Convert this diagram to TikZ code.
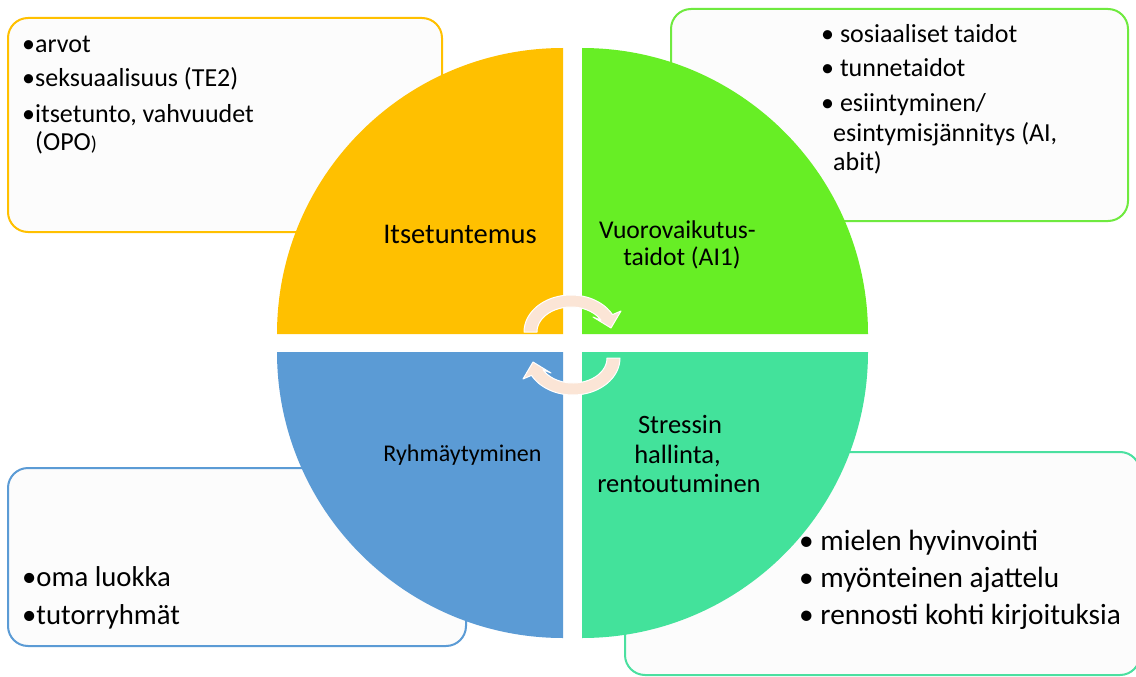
\documentclass[tikz,border=0pt]{standalone}
\usepackage{fontspec}
\setmainfont{Carlito}
\definecolor{cyellow}{HTML}{FFC000}
\definecolor{cgreen}{HTML}{67EE25}
\definecolor{cblue}{HTML}{5B9BD5}
\definecolor{cteal}{HTML}{43E29B}
\definecolor{bgreen}{HTML}{6FEA3F}
\definecolor{bteal}{HTML}{4BE0A0}
\definecolor{boxfill}{HTML}{FCFCFC}
\definecolor{peach}{HTML}{FBE5D6}
\begin{document}
\begin{tikzpicture}[x=1pt,y=-1pt,
  box/.style={line width=2pt, rounded corners=20pt, fill=boxfill},
  txt/.style={anchor=base west, inner sep=0pt, text=black},
  lbl/.style={anchor=base, inner sep=0pt, text=black},
  fa/.style={font=\fontsize{26}{31}\selectfont},
  fb/.style={font=\fontsize{28.7}{34}\selectfont},
  fc/.style={font=\fontsize{29.3}{35}\selectfont},
  cyc/.style={fill=peach, draw=white, line width=1pt, line join=round}]
\useasboundingbox (0,0) rectangle (1136,677);
\fill[white] (0,0) rectangle (1136,677);
% side boxes
\draw[box, draw=cyellow] (8,18) rectangle (442,232);
\draw[box, draw=bgreen] (671,9) rectangle (1128,221);
\draw[box, draw=cblue] (8,468) rectangle (466,646);
\draw[box, draw=bteal] (625,452) rectangle (1140,675);
% quadrants
\fill[cyellow] (563,334) -- ++(-286,0) arc[start angle=180, end angle=270, radius=286] -- cycle;
\fill[cgreen] (582,334) -- ++(0,-286) arc[start angle=270, end angle=360, radius=286] -- cycle;
\fill[cteal] (582,352) -- ++(286,0) arc[start angle=0, end angle=90, radius=286] -- cycle;
\fill[cblue] (563,352) -- ++(0,286) arc[start angle=90, end angle=180, radius=286] -- cycle;
% cycle arrows
\fill[cyc] plot[domain=180:28, samples=40, variable=\t] ({571+47*cos(\t)},{332-37*sin(\t)})
  -- (621,311) -- (611,328) -- (593,317)
  -- plot[domain=28:180, samples=40, variable=\t] ({571+34*cos(\t)},{332-25*sin(\t)}) -- cycle;
\begin{scope}[rotate around={180:(572,345)}]
\fill[cyc] plot[domain=180:28, samples=40, variable=\t] ({571+47*cos(\t)},{332-37*sin(\t)})
  -- (621,311) -- (611,328) -- (593,317)
  -- plot[domain=28:180, samples=40, variable=\t] ({571+34*cos(\t)},{332-25*sin(\t)}) -- cycle;
\end{scope}
% quadrant labels
\node[lbl, font=\fontsize{28.5}{34}\selectfont] (q1) at (460,243) {Itsetuntemus};
\node[lbl, font=\fontsize{25.6}{31}\selectfont] (q2a) at (677.5,238) {Vuorovaikutus-};
\node[lbl, font=\fontsize{25.6}{31}\selectfont] (q2b) at (682,265) {taidot (AI1)};
\node[lbl, font=\fontsize{24}{29}\selectfont] (q3) at (462.5,461.7) {Ryhmäytyminen};
\node[lbl, font=\fontsize{26.5}{32}\selectfont] (q4a) at (680,433) {Stressin};
\node[lbl, font=\fontsize{26.5}{32}\selectfont] (q4b) at (677.5,463) {hallinta,};
\node[lbl, font=\fontsize{26.5}{32}\selectfont] (q4c) at (679,492) {rentoutuminen};
% yellow box text
\node[txt, fa] (y1) at (22,52.7) {•arvot};
\node[txt, fa] (y2) at (22,87) {•seksuaalisuus (TE2)};
\node[txt, fa] (y3) at (22,122) {•itsetunto, vahvuudet};
\node[txt, fa] (y4) at (35,150.7) {(OPO{\fontsize{20}{24}\selectfont)}};
% green box text
\node[txt, fa] (g1) at (821,42.7) {• sosiaaliset taidot};
\node[txt, fa] (g2) at (821,76.7) {• tunnetaidot};
\node[txt, fa] (g3) at (821,111.7) {• esiintyminen/};
\node[txt, fa] (g4) at (833,141.7) {esintymisjännitys (AI,};
\node[txt, fa] (g5) at (833,170) {abit)};
% blue box text
\node[txt, fb] (b1) at (22,586.7) {•oma luokka};
\node[txt, fb] (b2) at (22,624) {•tutorryhmät};
% teal box text
\node[txt, fc] (t1) at (799,550) {• mielen hyvinvointi};
\node[txt, fc] (t2) at (799,587.7) {• myönteinen ajattelu};
\node[txt, fc] (t3) at (799,624) {• rennosti kohti kirjoituksia};
\end{tikzpicture}
\end{document}
